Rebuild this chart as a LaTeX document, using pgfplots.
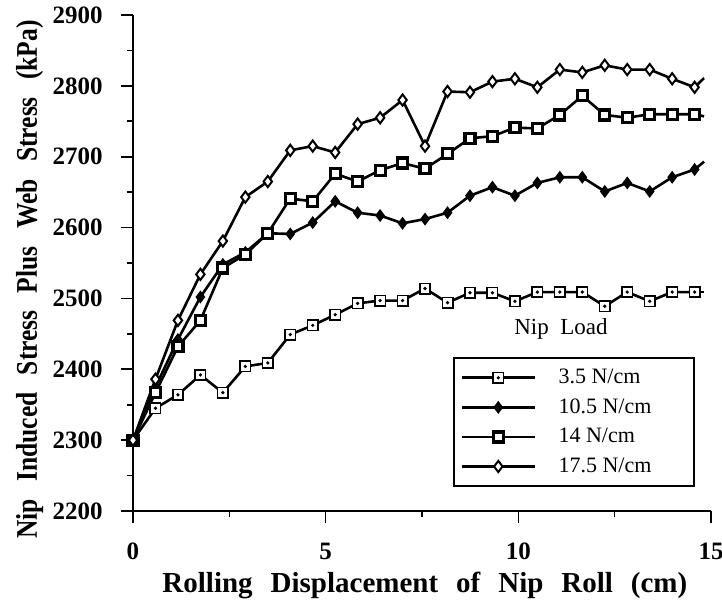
\documentclass[border=0pt]{standalone}
\usepackage{fontspec}
\setmainfont{Liberation Serif}
\newfontfamily\condfont[FakeStretch=0.85]{Liberation Serif}
\usepackage{pgfplots}
\pgfplotsset{compat=1.18}
\pgfdeclareplotmark{sqdot}{%
  \pgfpathrectangle{\pgfqpoint{-\pgfplotmarksize}{-\pgfplotmarksize}}{\pgfqpoint{2\pgfplotmarksize}{2\pgfplotmarksize}}%
  \pgfusepathqfillstroke
  \begin{pgfscope}%
  \pgfpathcircle{\pgfpointorigin}{0.35\pgfplotmarksize}%
  \pgfsetfillcolor{black}\pgfusepathqfill
  \end{pgfscope}%
}
\newcommand{\tlfont}{\fontsize{12.5}{14}\selectfont\bfseries}
\begin{document}
\begin{tikzpicture}
\useasboundingbox (-66.5pt,-47.5pt) rectangle (294.5pt,255.5pt);
\begin{axis}[
  at={(0pt,0pt)}, anchor=south west,
  scale only axis, width=289pt, height=248pt,
  xmin=0, xmax=15, ymin=2200, ymax=2900,
  clip=false, scaled ticks=false,
  axis lines=left, axis line style={-, line width=1pt},
  xtick={0,5,10,15}, minor xtick={2.5,7.5,12.5},
  ytick={2200,2300,...,2900}, minor ytick={2250,2350,...,2850},
  tick align=outside, major tick length=6pt, minor tick length=3pt,
  tick style={black, line width=0.8pt},
  tick label style={font=\tlfont},
  xticklabel={\tlfont\rule{0pt}{14pt}\pgfmathprintnumber[assume math mode=true]{\tick}},
  yticklabel={\tlfont\pgfmathprintnumber[assume math mode=true,1000 sep={}]{\tick}\hspace{2pt}},
  xticklabel style={anchor=base, yshift=-18pt, inner sep=0pt},
  yticklabel style={anchor=east, xshift=-9pt, inner sep=0pt},
  xlabel={{\spaceskip=0.62em\relax Rolling Displacement of Nip Roll (cm)}},
  ylabel={{\condfont\bfseries\spaceskip=0.58em\relax Nip Induced Stress Plus Web Stress (kPa)}},
  xlabel style={at={(axis description cs:0.505,-0.1653)}, anchor=base, font=\bfseries\fontsize{14.5}{16}\selectfont},
  ylabel style={at={(axis description cs:-0.1661,0.4667)}, anchor=base, font=\fontsize{15}{17}\selectfont},
  legend style={at={(rel axis cs:0.5536,0.3105)}, anchor=north west, draw=black, line width=1pt,
    inner xsep=3.5pt, inner ysep=5.5pt, font=\fontsize{11}{13}\selectfont, row sep=6pt,
    nodes={inner sep=0pt},
    /tikz/every odd column/.append style={column sep=11pt}},
  legend cell align=left,
  legend image code/.code={\draw[mark repeat=2,mark phase=2] plot coordinates {(0pt,0pt) (18pt,0pt) (36.5pt,0pt)};},
]
% stubs (line ends without marks)
\addplot[black, line width=1.3pt, forget plot] coordinates {(14.575,2509)(14.82,2509)};
\addplot[black, line width=1.3pt, forget plot] coordinates {(14.575,2682)(14.82,2693)};
\addplot[black, line width=1.3pt, forget plot] coordinates {(14.575,2760)(14.82,2757)};
\addplot[black, line width=1.3pt, forget plot] coordinates {(14.575,2798)(14.82,2811)};

\addplot[black, line width=1.3pt, mark=sqdot, mark size=2.6pt, mark options={fill=white, line width=0.8pt}] coordinates {
(0,2300)(0.583,2345)(1.166,2364)(1.749,2392)(2.332,2367)(2.915,2404)(3.498,2409)(4.081,2449)(4.664,2462)(5.247,2477)(5.83,2493)(6.413,2497)(6.996,2497)(7.579,2514)(8.162,2494)(8.745,2508)(9.328,2508)(9.911,2496)(10.494,2509)(11.077,2509)(11.66,2509)(12.243,2489)(12.826,2509)(13.409,2496)(13.992,2509)(14.575,2509)};
\addlegendentry{\makebox[64pt][l]{3.5 N/cm}}

\addplot[black, line width=1.3pt, mark=diamond*, mark size=2.6pt, mark options={fill=black, line width=0.8pt}] coordinates {
(0,2300)(0.583,2375)(1.166,2442)(1.749,2502)(2.332,2548)(2.915,2565)(3.498,2592)(4.081,2591)(4.664,2607)(5.247,2637)(5.83,2621)(6.413,2617)(6.996,2606)(7.579,2612)(8.162,2621)(8.745,2645)(9.328,2657)(9.911,2645)(10.494,2663)(11.077,2671)(11.66,2671)(12.243,2651)(12.826,2663)(13.409,2651)(13.992,2671)(14.575,2682)};
\addlegendentry{10.5 N/cm}

\addplot[black, line width=1.3pt, mark=square*, mark size=2.5pt, mark options={fill=white, line width=1.6pt}] coordinates {
(0,2300)(0.583,2367)(1.166,2432)(1.749,2469)(2.332,2543)(2.915,2562)(3.498,2592)(4.081,2641)(4.664,2637)(5.247,2676)(5.83,2665)(6.413,2681)(6.996,2691)(7.579,2683)(8.162,2704)(8.745,2726)(9.328,2729)(9.911,2741)(10.494,2740)(11.077,2759)(11.66,2786)(12.243,2759)(12.826,2755)(13.409,2760)(13.992,2760)(14.575,2760)};
\addlegendentry{14 N/cm}

\addplot[black, line width=1.3pt, mark=diamond*, mark size=2.8pt, mark options={fill=white, line width=1pt}] coordinates {
(0,2300)(0.583,2386)(1.166,2469)(1.749,2534)(2.332,2581)(2.915,2643)(3.498,2665)(4.081,2709)(4.664,2715)(5.247,2706)(5.83,2746)(6.413,2755)(6.996,2780)(7.579,2715)(8.162,2792)(8.745,2791)(9.328,2806)(9.911,2810)(10.494,2798)(11.077,2823)(11.66,2819)(12.243,2829)(12.826,2823)(13.409,2823)(13.992,2810)(14.575,2798)};
\addlegendentry{17.5 N/cm}

\node[font=\fontsize{11.5}{13}\selectfont] at (rel axis cs:0.7405,0.367) {Nip\ \ Load};
\end{axis}
\end{tikzpicture}
\end{document}
